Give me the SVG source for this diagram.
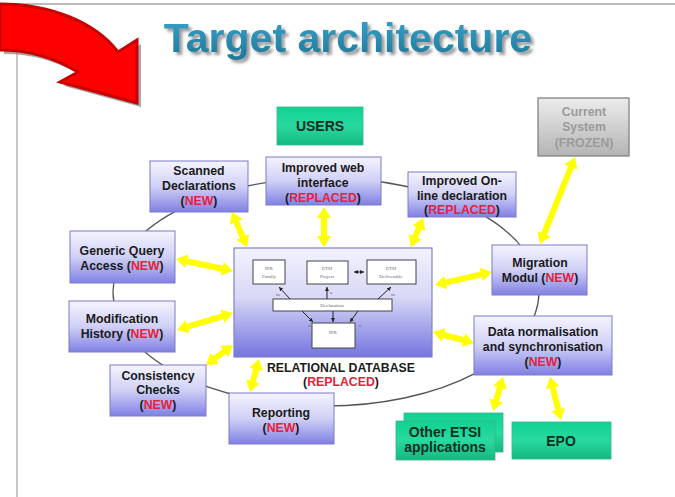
<svg xmlns="http://www.w3.org/2000/svg" width="675" height="497" viewBox="0 0 675 497">
<defs>
<style>
.t{font-family:"Liberation Sans",Arial,sans-serif;font-weight:bold;font-size:12.3px;fill:#1a1a1a;text-anchor:middle}
.g{font-family:"Liberation Sans",Arial,sans-serif;font-weight:bold;font-size:14px;fill:#10301f;text-anchor:middle}
.r{fill:#e8203a}
.box{fill:url(#lav);stroke:#7a7acc;stroke-width:1}
.gbox{fill:url(#grn);stroke:#3ab58a;stroke-width:0.8}
.ya{stroke:#ffff00;stroke-width:6;fill:none;marker-start:url(#yh);marker-end:url(#yh)}
.ib{fill:#ffffff;stroke:#444;stroke-width:1}
.it{font-family:"Liberation Serif","Times New Roman",serif;font-size:5px;fill:#666;text-anchor:middle}
.sl{stroke:#222;stroke-width:1;fill:none;marker-end:url(#sh)}
</style>
<linearGradient id="lav" x1="0" y1="0" x2="0" y2="1">
<stop offset="0" stop-color="#f4f4ff"/>
<stop offset="0.5" stop-color="#d0d0f6"/>
<stop offset="1" stop-color="#8080e4"/>
</linearGradient>
<linearGradient id="db" x1="0" y1="0" x2="0" y2="1">
<stop offset="0" stop-color="#f2f2fe"/>
<stop offset="0.45" stop-color="#d8d8f6"/>
<stop offset="1" stop-color="#7474e0"/>
</linearGradient>
<linearGradient id="grn" x1="0" y1="0" x2="0" y2="1">
<stop offset="0" stop-color="#10d293"/>
<stop offset="0.5" stop-color="#2ad9a0"/>
<stop offset="1" stop-color="#12b980"/>
</linearGradient>
<linearGradient id="gry" x1="0" y1="0" x2="0" y2="1">
<stop offset="0" stop-color="#ececec"/>
<stop offset="1" stop-color="#b4b4b4"/>
</linearGradient>
<linearGradient id="ttl" x1="0" y1="0" x2="0" y2="1">
<stop offset="0" stop-color="#3aa4cc"/>
<stop offset="1" stop-color="#1d7798"/>
</linearGradient>
<filter id="ds" x="-10%" y="-30%" width="120%" height="160%">
<feDropShadow dx="3" dy="3" stdDeviation="1.5" flood-color="#555" flood-opacity="0.6"/>
</filter>
<marker id="yh" markerUnits="userSpaceOnUse" markerWidth="11" markerHeight="14" viewBox="0 0 11 14" refX="1.5" refY="7" orient="auto-start-reverse">
<path d="M0,0 L11,7 L0,14 Z" fill="#ffff00"/>
</marker>
<marker id="sh" markerUnits="userSpaceOnUse" markerWidth="4" markerHeight="4" viewBox="0 0 4 4" refX="4" refY="2" orient="auto-start-reverse">
<path d="M0,0 L4,2 L0,4 Z" fill="#222"/>
</marker>
</defs>
<rect width="675" height="497" fill="#ffffff"/>
<g id="frame">
<line x1="0" y1="4" x2="675" y2="4" stroke="#bcbcbc" stroke-width="2"/>
<line x1="17" y1="50" x2="17" y2="497" stroke="#c8c8c8" stroke-width="2"/>
</g>
<g id="red-arrow">
<path d="M0,4 C50,4 95,22 118,52 L137,40 L137,103 L60,82 L78,72 C55,58 30,50 0,50 Z" transform="translate(4,4)" fill="#8a8a8a" opacity="0.75"/>
<path d="M0,4 C50,4 95,22 118,52 L137,40 L137,103 L60,82 L78,72 C55,58 30,50 0,50 Z" fill="#ff0000" stroke="#c80000" stroke-width="3" stroke-linejoin="miter"/>
</g>
<g id="title">
<text x="348" y="52" font-family="'Liberation Sans',Arial,sans-serif" font-weight="bold" font-size="41" fill="url(#ttl)" text-anchor="middle" filter="url(#ds)">Target architecture</text>
</g>
<g id="ring">
<ellipse cx="326" cy="292" rx="213" ry="114" fill="none" stroke="#555" stroke-width="1.3"/>
</g>
<g id="connectors">
<line class="ya" x1="235.7" y1="220.7" x2="243.3" y2="238.3"/>
<line class="ya" x1="324" y1="216.5" x2="324" y2="237.5"/>
<line class="ya" x1="419.4" y1="226.8" x2="414.6" y2="238.2"/>
<line class="ya" x1="185.3" y1="261" x2="223.7" y2="269"/>
<line class="ya" x1="186.1" y1="327.2" x2="223.9" y2="315.8"/>
<line class="ya" x1="213.6" y1="359.3" x2="225.4" y2="350.7"/>
<line class="ya" x1="252.5" y1="382.8" x2="256.5" y2="368.2"/>
<line class="ya" x1="444.3" y1="282.9" x2="482.7" y2="274.1"/>
<line class="ya" x1="442.2" y1="334.5" x2="464.8" y2="340.5"/>
<line class="ya" x1="571.5" y1="165.8" x2="543.5" y2="235.2"/>
<line class="ya" x1="500.3" y1="386.1" x2="495.7" y2="401.9"/>
<line class="ya" x1="552.4" y1="386.2" x2="558.6" y2="410.8"/>
</g>
<g id="users">
<rect class="gbox" x="277" y="107" width="86" height="38"/>
<text class="g" x="320" y="131">USERS</text>
</g>
<g id="current-system">
<rect x="538" y="98" width="91" height="58" fill="url(#gry)" stroke="#7a7a7a" stroke-width="1.2"/>
<text class="t" x="584" y="116" style="fill:#9a9a9a">Current</text>
<text class="t" x="584" y="131" style="fill:#9a9a9a">System</text>
<text class="t" x="584" y="147" style="fill:#9a9a9a">(FROZEN)</text>
</g>
<g id="scanned">
<rect class="box" x="150" y="161" width="98" height="51"/>
<text class="t" x="199" y="175">Scanned</text>
<text class="t" x="199" y="190">Declarations</text>
<text class="t" x="199" y="205">(<tspan class="r">NEW</tspan>)</text>
</g>
<g id="web">
<rect class="box" x="266" y="157" width="115" height="48"/>
<text class="t" x="323" y="172">Improved web</text>
<text class="t" x="323" y="187">interface</text>
<text class="t" x="323" y="202">(<tspan class="r">REPLACED</tspan>)</text>
</g>
<g id="online">
<rect class="box" x="408" y="172" width="108" height="45"/>
<text class="t" x="462" y="185">Improved On-</text>
<text class="t" x="462" y="200">line declaration</text>
<text class="t" x="462" y="214">(<tspan class="r">REPLACED</tspan>)</text>
</g>
<g id="generic">
<rect class="box" x="70" y="231" width="105" height="52"/>
<text class="t" x="122" y="255">Generic Query</text>
<text class="t" x="122" y="270">Access (<tspan class="r">NEW</tspan>)</text>
</g>
<g id="modification">
<rect class="box" x="69" y="301" width="106" height="51"/>
<text class="t" x="122" y="323">Modification</text>
<text class="t" x="122" y="338">History (<tspan class="r">NEW</tspan>)</text>
</g>
<g id="consistency">
<rect class="box" x="110" y="365" width="96" height="51"/>
<text class="t" x="158" y="380">Consistency</text>
<text class="t" x="158" y="394">Checks</text>
<text class="t" x="158" y="409">(<tspan class="r">NEW</tspan>)</text>
</g>
<g id="reporting">
<rect class="box" x="229" y="393" width="105" height="51"/>
<text class="t" x="281" y="417">Reporting</text>
<text class="t" x="281" y="432">(<tspan class="r">NEW</tspan>)</text>
</g>
<g id="migration">
<rect class="box" x="492" y="245" width="95" height="50"/>
<text class="t" x="540" y="267">Migration</text>
<text class="t" x="540" y="282">Modul (<tspan class="r">NEW</tspan>)</text>
</g>
<g id="datanorm">
<rect class="box" x="474" y="316" width="138" height="59"/>
<text class="t" x="543" y="336">Data normalisation</text>
<text class="t" x="543" y="351">and synchronisation</text>
<text class="t" x="543" y="366">(<tspan class="r">NEW</tspan>)</text>
</g>
<g id="database">
<rect x="234" y="248" width="198" height="109" fill="url(#db)" stroke="#8080cc" stroke-width="1.2"/>
<rect class="ib" x="253" y="260" width="32" height="24"/>
<text class="it" x="269" y="270">IPR</text>
<text class="it" x="269" y="278">Family</text>
<rect class="ib" x="307" y="261" width="41" height="23"/>
<text class="it" x="327" y="270">ETSI</text>
<text class="it" x="327" y="278">Project</text>
<rect class="ib" x="367" y="260" width="49" height="24"/>
<text class="it" x="391" y="270">ETSI</text>
<text class="it" x="391" y="278">Deliverable</text>
<rect class="ib" x="273" y="299" width="119" height="12"/>
<text class="it" x="332" y="307">Declaration</text>
<rect class="ib" x="312" y="323" width="43" height="25"/>
<text class="it" x="333" y="334">IPR</text>
<line class="sl" x1="290" y1="299" x2="279" y2="287"/>
<line class="sl" x1="327" y1="299" x2="327" y2="287"/>
<line class="sl" x1="378" y1="299" x2="391" y2="287"/>
<line class="sl" x1="354" y1="272" x2="364" y2="272" style="marker-start:url(#sh)"/>
<line class="sl" x1="302" y1="311" x2="313" y2="322"/>
<line class="sl" x1="333" y1="311" x2="333" y2="322"/>
<line class="sl" x1="358" y1="311" x2="350" y2="322"/>
<text class="it" x="278" y="296">m</text>
<text class="it" x="331" y="294">n</text>
<text class="it" x="393" y="296">m</text>
<text class="it" x="310" y="327">m</text>
<text class="it" x="360" y="327">n</text>
<text class="t" x="341" y="372">RELATIONAL DATABASE</text>
<text class="t" x="341" y="386">(<tspan class="r">REPLACED</tspan>)</text>
</g>
<g id="other-etsi">
<rect class="gbox" x="404" y="413" width="99" height="39"/>
<rect class="gbox" x="396" y="421" width="99" height="39"/>
<text class="g" x="445" y="437">Other ETSI</text>
<text class="g" x="445" y="452">applications</text>
</g>
<g id="epo">
<rect class="gbox" x="512" y="422" width="99" height="37"/>
<text class="g" x="561" y="446">EPO</text>
</g>
</svg>
